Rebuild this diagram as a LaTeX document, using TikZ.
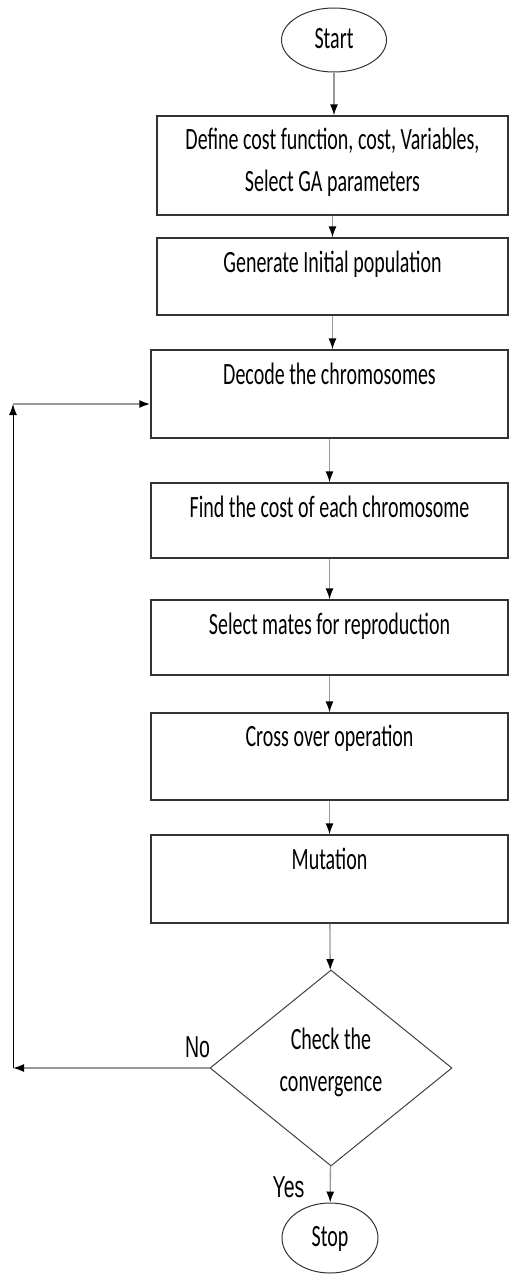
\documentclass[tikz,border=0pt]{standalone}
\usepackage{fontspec}
\setmainfont{Carlito}
\newfontfamily\arialfont{Liberation Sans}
\usepackage{graphicx}
\usetikzlibrary{shapes.geometric,arrows.meta}

% tall, narrow text as in the scanned chart
\newcommand{\tall}[1]{\scalebox{1}[1.55]{\begin{tabular}{@{}c@{}}#1\end{tabular}}}

\tikzset{
  stepbox/.style={draw=black!80, line width=1.3pt, rectangle, inner sep=0pt,
                  minimum width=357pt},
  terminal/.style={draw=black!80, line width=1pt, ellipse, inner sep=0pt},
  decision/.style={draw=black!75, line width=1pt, diamond, inner sep=0pt,
                   minimum width=242pt, minimum height=196pt},
  flow/.style={draw=black!40, line width=1.3pt,
               -{Latex[color=black, length=11pt, width=8pt]}},
  answer/.style={font=\arialfont\fontsize{19.5}{24}\selectfont},
}

\begin{document}
\begin{tikzpicture}[x=1pt, y=-1pt, font=\fontsize{20}{27}\selectfont]
    \useasboundingbox (0,0) rectangle (509,1274);

    % Start and set-up steps
    \node[terminal, minimum width=105pt, minimum height=64pt] (start) at (334,40) {\tall{Start}};
    \node[stepbox, minimum width=351pt, minimum height=99pt,
          label={[yshift=3pt]center:{\tall{Define cost function, cost, Variables,\\Select GA parameters}}}]
          (define) at (332.5,165.5) {};
    \node[stepbox, minimum width=351pt, minimum height=77pt,
          label={[yshift=12pt]center:{\tall{Generate Initial population}}}]
          (init) at (332.5,276.5) {};

    % The loop body
    \node[stepbox, minimum height=88pt,
          label={[yshift=17.5pt]center:{\tall{Decode the chromosomes}}}]
          (decode) at (329.5,394) {};
    \node[stepbox, minimum height=75pt,
          label={[yshift=11pt]center:{\tall{Find the cost of each chromosome}}}]
          (cost) at (329.5,520.5) {};
    \node[stepbox, minimum height=75pt,
          label={[yshift=11pt]center:{\tall{Select mates for reproduction}}}]
          (mates) at (329.5,637.5) {};
    \node[stepbox, minimum height=87pt,
          label={[yshift=18pt]center:{\tall{Cross over operation}}}]
          (cross) at (329.5,756.5) {};
    \node[stepbox, minimum height=88pt,
          label={[yshift=17.5pt]center:{\tall{Mutation}}}]
          (mutation) at (329.5,879) {};

    % Decision and end
    \node[decision, label={[yshift=5.5pt]center:{\tall{Check the\\convergence}}}]
          (check) at (331,1068) {};
    \node[terminal, minimum width=96pt, minimum height=70pt] (stop) at (330,1238) {\tall{Stop}};

    % Answers
    \node[answer] (no) at (197.5,1050) {\tall{No}};
    \node[answer] (yes) at (288.5,1190) {\tall{Yes}};

    % Main flow
    \draw[flow] (start) -- (start |- define.north);
    \draw[flow] (define) -- (init);
    \draw[flow] (init.south) -- (init.south |- decode.north);
    \draw[flow] (decode) -- (cost);
    \draw[flow] (cost) -- (mates);
    \draw[flow] (mates) -- (cross);
    \draw[flow] (cross) -- (mutation);
    \draw[flow] (mutation) -- (check);
    \draw[flow] (check) -- (stop);

    % Back to decoding
    \coordinate (noturn) at (13,1068);
    \coordinate (backturn) at (13,404);
    \draw[flow, line width=1.5pt] (check.west) -- (noturn);
    \draw[flow, draw=black, line width=1pt] (noturn) -- (backturn);
    \draw[flow, line width=2pt] (backturn) -- (backturn -| decode.west);
\end{tikzpicture}
\end{document}
